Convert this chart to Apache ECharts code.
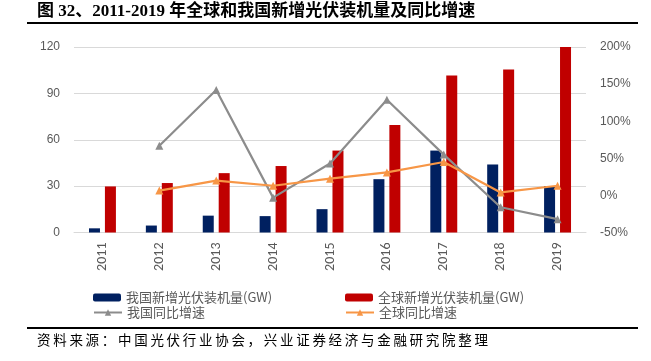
<!DOCTYPE html>
<html><head><meta charset="utf-8">
<script src="https://cdn.jsdelivr.net/npm/echarts@6/dist/echarts.min.js"></script>
<style>html,body{margin:0;padding:0;background:#fff}#c{width:651px;height:361px}</style>
</head><body><div id="c"></div>
<script>
const years = ['2011','2012','2013','2014','2015','2016','2017','2018','2019'];
const chinaGW = [2.7, 4.5, 10.9, 10.6, 15.1, 34.5, 53.0, 44.0, 30.1];
const globalGW = [29.8, 32.0, 38.4, 43.0, 53.0, 69.5, 101.5, 105.5, 120.0];
const chinaYoY = [null, 67, 142, -3, 43, 129, 55, -16, -32];
const globalYoY = [null, 6.5, 20, 13, 22.5, 31, 45, 4, 13];
const leftTicks = {min:0, max:120, interval:30};
const rightTicks = {min:-50, max:200, interval:50};
const names = ['我国新增光伏装机量(GW)','全球新增光伏装机量(GW)','我国同比增速','全球同比增速'];
const titleText = '图 32、2011-2019 年全球和我国新增光伏装机量及同比增速';
const sourceText = '资料来源：中国光伏行业协会，兴业证券经济与金融研究院整理';

const chart = echarts.init(document.getElementById('c'), null, {renderer:'canvas'});
const gray = '#595959';
const legendText = {color:gray, fontSize:13, fontFamily:'"Noto Sans CJK SC", sans-serif'};
const spaced = sourceText.split('').join('\u2009');
chart.setOption({
  animation:false,
  grid:{left:74, right:65, top:47, bottom:128.5},
  xAxis:{type:'category', data:years,
    axisLine:{lineStyle:{color:'#d9d9d9', width:1}}, axisTick:{show:false},
    axisLabel:{rotate:90, color:gray, fontSize:14, margin:10, fontFamily:'Carlito, Calibri, "Liberation Sans", sans-serif'}},
  yAxis:[
    {type:'value', min:leftTicks.min, max:leftTicks.max, interval:leftTicks.interval,
     axisLine:{show:false}, axisTick:{show:false},
     splitLine:{lineStyle:{color:'#d9d9d9', width:1}},
     axisLabel:{color:gray, fontSize:12, margin:14}},
    {type:'value', min:rightTicks.min, max:rightTicks.max, interval:rightTicks.interval,
     axisLine:{show:false}, axisTick:{show:false}, splitLine:{show:false},
     axisLabel:{color:gray, fontSize:12, margin:14, formatter:v=>v+'%'}}
  ],
  legend:[
    {data:[names[0]], left:93, top:291, itemWidth:28, itemHeight:8, itemGap:4, textStyle:legendText, padding:0},
    {data:[names[1]], left:345, top:291, itemWidth:28, itemHeight:8, textStyle:legendText, padding:0},
    {data:[names[2]], left:93, top:306, itemWidth:28, itemHeight:8, textStyle:legendText, padding:0},
    {data:[names[3]], left:345, top:306, itemWidth:28, itemHeight:8, textStyle:legendText, padding:0}
  ],
  graphic:[
    {type:'text', left:37, top:3, style:{text:titleText, fontSize:17, fontWeight:'bold', fill:'#000', fontFamily:'"Liberation Serif", "Noto Sans CJK SC", serif'}},
    {type:'rect', shape:{x:27, y:22, width:611, height:2}, style:{fill:'#000'}},
    {type:'rect', shape:{x:27, y:327, width:611, height:2}, style:{fill:'#000'}},
    {type:'text', left:37, top:333, style:{text:spaced, fontSize:13.5, fill:'#000', fontFamily:'"Noto Sans CJK SC", serif'}}
  ],
  series:[
    {name:names[0], type:'bar', data:chinaGW, barWidth:11, barGap:'45%', itemStyle:{color:'#002060'}},
    {name:names[1], type:'bar', data:globalGW, barWidth:11, barGap:'45%', itemStyle:{color:'#c00000'}},
    {name:names[2], type:'line', yAxisIndex:1, data:chinaYoY, symbol:'triangle', symbolSize:8,
     lineStyle:{color:'#8c8c8c', width:2.2}, itemStyle:{color:'#8c8c8c'}},
    {name:names[3], type:'line', yAxisIndex:1, data:globalYoY, symbol:'triangle', symbolSize:8,
     lineStyle:{color:'#f79646', width:2.2}, itemStyle:{color:'#f79646'}}
  ]
});
</script></body></html>
